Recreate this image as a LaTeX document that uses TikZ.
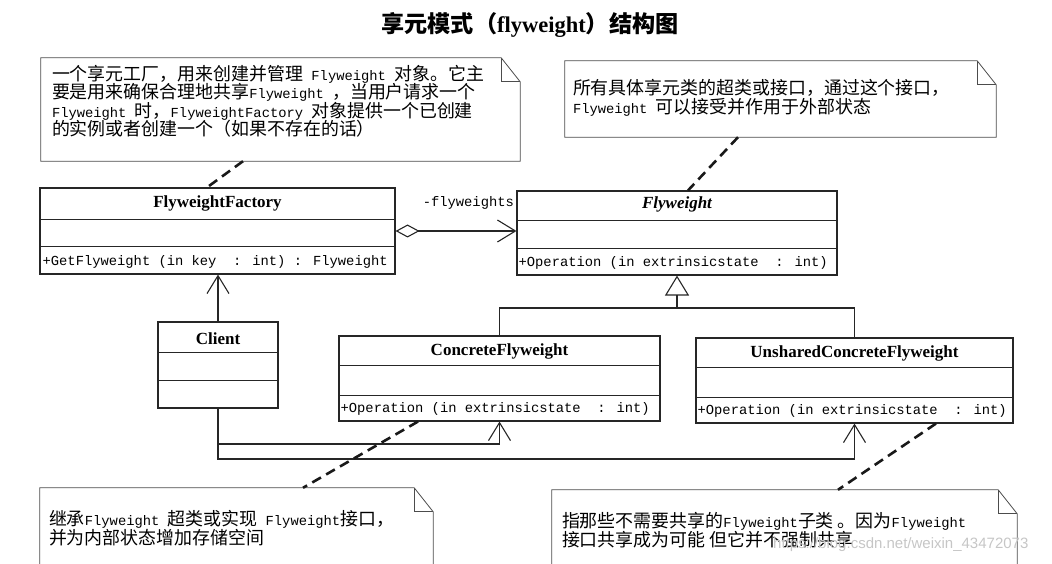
\documentclass[tikz,border=0pt]{standalone}
\usepackage{fontspec}
\setmainfont{Liberation Mono}
\newfontfamily\clsfont{Liberation Serif}
\newfontfamily\zhfont{Noto Sans CJK SC}[Scale=1.3]
\newfontfamily\wmfont{Liberation Sans}
\usetikzlibrary{arrows.meta}

\newcommand*{\foldw}{19pt}
\newcommand*{\foldh}{24pt}
\newcommand*{\zh}[1]{{\zhfont #1}}

% note outline with a folded corner
\newcommand*{\dogear}[1]{%
	\draw[noteline] (#1.north west) -- ([xshift=-\foldw]#1.north east)
	  -- ([yshift=-\foldh]#1.north east) -- (#1.south east) -- (#1.south west) -- cycle;
	\draw[noteline] ([xshift=-\foldw]#1.north east) |- ([yshift=-\foldh]#1.north east);
}

\begin{document}
\begin{tikzpicture}
[
	x=1pt,
	y=-1pt,
	classbox/.style={draw=black!85,line width=1.1pt,inner sep=0pt},
	classline/.style={draw=black!85,line width=1.1pt},
	classname/.style={inner sep=0pt,font=\fontsize{17}{20}\selectfont\clsfont\bfseries},
	member/.style={anchor=west,inner sep=0pt,font=\fontsize{13.8}{16}\selectfont},
	notebox/.style={inner sep=0pt},
	noteline/.style={draw=black!70,line width=0.8pt},
	notetext/.style={anchor=north west,inner sep=0pt,align=left,font=\fontsize{13.8}{18.5}\selectfont},
	anchorline/.style={draw=black!90,line width=2.6pt,dash pattern=on 10pt off 6pt},
	barb/.style={-{Straight Barb[length=18pt,width=22pt]}}
]

	\useasboundingbox (0,0) rectangle (1052,564);

	% title
	\node (title) at (530,25) {{\fontsize{17.8}{20}\selectfont\zhfont\bfseries 享元模式（}{\fontsize{22.5}{24}\selectfont\clsfont\bfseries flyweight}{\fontsize{17.8}{20}\selectfont\zhfont\bfseries ）结构图}};

	% notes
	\node[notebox,minimum width=479,minimum height=103] (note1) at (280.5,109.5) {};
	\node[notebox,minimum width=431,minimum height=76] (note2) at (780.5,99) {};
	\node[notebox,minimum width=393,minimum height=132] (note3) at (236.5,554) {};
	\node[notebox,minimum width=465,minimum height=130] (note4) at (784.5,555) {};
	\foreach \n in {note1,note2,note3,note4} {
		\dogear{\n}
	}

	\node[notetext] (note1txt) at ([xshift=11pt,yshift=-7pt]note1.north west)
	  {\zh{一个享元工厂，用来创建并管理} Flyweight \zh{对象。它主}\\
	   \zh{要是用来确保合理地共享}Flyweight \zh{，当用户请求一个}\\
	   Flyweight \zh{时，}FlyweightFactory \zh{对象提供一个已创建}\\
	   \zh{的实例或者创建一个（如果不存在的话）}};
	\node[notetext] (note2txt) at ([xshift=8pt,yshift=-18.5pt]note2.north west)
	  {\zh{所有具体享元类的超类或接口，通过这个接口，}\\
	   Flyweight \zh{可以接受并作用于外部状态}};
	\node[notetext] (note3txt) at ([xshift=9pt,yshift=-22.5pt]note3.north west)
	  {\zh{继承}Flyweight \zh{超类或实现} Flyweight\zh{接口，}\\
	   \zh{并为内部状态增加存储空间}};
	\node[notetext] (note4txt) at ([xshift=10pt,yshift=-22.5pt]note4.north west)
	  {\zh{指那些不需要共享的}Flyweight\zh{子类 。因为}Flyweight\\
	   \zh{接口共享成为可能\ 但它并不强制共享}};

	% classes
	\node[classbox,minimum width=355,minimum height=86] (factory) at (217.5,231) {};
	\node[classbox,minimum width=320,minimum height=84] (flyweight) at (677,233) {};
	\node[classbox,minimum width=120,minimum height=86] (client) at (218,365) {};
	\node[classbox,minimum width=321,minimum height=85] (concrete) at (499.5,378.5) {};
	\node[classbox,minimum width=317,minimum height=85] (unshared) at (854.5,380.5) {};

	% compartment dividers
	\foreach \c/\a/\b in {factory/32/59,flyweight/30/58,client/31/59,concrete/30/60,unshared/30/60} {
		\draw[classline] ([yshift=-\a pt]\c.north west) -- ([yshift=-\a pt]\c.north east);
		\draw[classline] ([yshift=-\b pt]\c.north west) -- ([yshift=-\b pt]\c.north east);
	}

	% class names
	\node[classname] (factoryname) at ([yshift=-16pt]factory.north) {FlyweightFactory};
	\node[classname] (flyweightname) at ([yshift=-14pt]flyweight.north) {\itshape Flyweight};
	\node[classname] (clientname) at ([yshift=-17pt]client.north) {Client};
	\node[classname] (concretename) at ([yshift=-16pt]concrete.north) {ConcreteFlyweight};
	\node[classname] (unsharedname) at ([yshift=-16pt]unshared.north) {UnsharedConcreteFlyweight};

	% operations
	\node[member] (factoryop) at ([xshift=3pt,yshift=13pt]factory.south west) {+GetFlyweight (in key\ \ : int) : Flyweight};
	\node[member] (flyweightop) at ([xshift=2pt,yshift=13pt]flyweight.south west) {+Operation (in extrinsicstate\ \ : int)};
	\node[member] (concreteop) at ([xshift=2pt,yshift=13pt]concrete.south west) {+Operation (in extrinsicstate\ \ : int)};
	\node[member] (unsharedop) at ([xshift=2pt,yshift=13pt]unshared.south west) {+Operation (in extrinsicstate\ \ : int)};

	% aggregation
	\draw[classline,{Diamond[open,length=24pt,width=13pt]}-{Straight Barb[length=18pt,width=22pt]}]
	  (factory.east) -- (factory.east -| flyweight.west)
	  node[member,anchor=east,xshift=-2pt,yshift=28pt] (flyweightsrole) {-flyweights};

	% generalization
	\coordinate (split) at (677,308);
	\draw[classline,-{Triangle[open,length=20pt,width=24pt]}] (split) -- (flyweight.south);
	\draw[classline] (concrete.north) |- (split) -| (unshared.north);

	% client associations
	\coordinate (bus1) at (218,444);
	\coordinate (bus2) at (218,459);
	\draw[classline,barb] (client.north) -- (client.north |- factory.south);
	\draw[classline,barb] (client.south) -- (bus1) -| (concrete.south);
	\draw[classline,barb] (bus1) -- (bus2) -| (unshared.south);

	% note anchors
	\draw[anchorline] ([xshift=-37.5pt]note1.south) -- ([xshift=-10.5pt]factory.north);
	\draw[anchorline] ([xshift=-42.5pt]note2.south) -- ([xshift=11pt]flyweight.north);
	\draw[anchorline] ([xshift=-81.5pt]concrete.south) -- ([xshift=66.5pt]note3.north);
	\draw[anchorline] ([xshift=81.5pt]unshared.south) -- ([xshift=53.5pt]note4.north);

	% watermark
	\node[anchor=west,inner sep=0pt,text=gray!45,font=\fontsize{15}{17}\selectfont\wmfont] (mark) at (773,545) {https://blog.csdn.net/weixin\_43472073};

\end{tikzpicture}
\end{document}
